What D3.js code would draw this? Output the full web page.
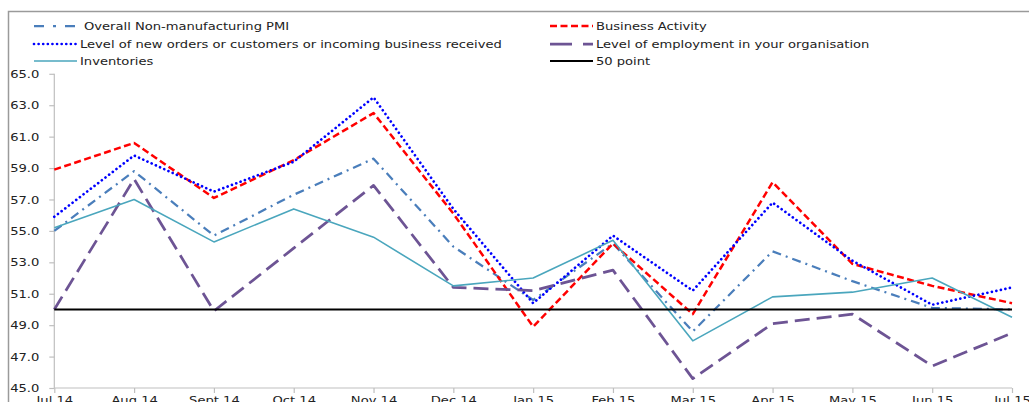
<!DOCTYPE html>
<html>
<head>
<meta charset="utf-8">
<script src="https://cdn.jsdelivr.net/npm/d3@7"></script>
<style>
html,body{margin:0;padding:0;background:#fff;}
svg{display:block;}
text{font-family:"DejaVu Sans",Verdana,sans-serif;font-size:10px;fill:#222;}
</style>
</head>
<body>
<svg id="chart" width="1029" height="402"></svg>
<script>
const months = ["Jul 14","Aug 14","Sept 14","Oct 14","Nov 14","Dec 14","Jan 15","Feb 15","Mar 15","Apr 15","May 15","Jun 15","Jul 15"];
const pmi = [55.0, 58.8, 54.7, 57.3, 59.6, 54.0, 50.6, 54.2, 48.6, 53.7, 51.8, 50.1, 50.0];
const business = [58.9, 60.6, 57.1, 59.5, 62.5, 56.1, 48.9, 54.2, 49.7, 58.1, 52.9, 51.5, 50.4];
const newOrders = [55.9, 59.8, 57.5, 59.4, 63.5, 56.4, 50.4, 54.7, 51.2, 56.8, 53.1, 50.3, 51.4];
const employment = [50.0, 58.3, 49.9, 53.9, 57.9, 51.4, 51.2, 52.5, 45.6, 49.1, 49.7, 46.4, 48.5];
const inventories = [55.2, 57.0, 54.3, 56.4, 54.6, 51.5, 52.0, 54.4, 48.0, 50.8, 51.1, 52.0, 49.5];
const fiftyPoint = [50, 50, 50, 50, 50, 50, 50, 50, 50, 50, 50, 50, 50];
const yTicks = [45, 47, 49, 51, 53, 55, 57, 59, 61, 63, 65];
const seriesNames = ["Overall Non-manufacturing PMI","Business Activity","Level of new orders or customers or incoming business received","Level of employment in your organisation","Inventories","50 point"];

const styles = [
  {color:"#4a7ebb", width:2.25, dash:"9,5,2,5", cap:"butt"},
  {color:"#ff0000", width:2.5, dash:"7,3.5", cap:"butt"},
  {color:"#0000ff", width:2.7, dash:"0.01,4.6", cap:"round"},
  {color:"#6d5494", width:2.75, dash:"15,7", cap:"butt"},
  {color:"#4aa6bd", width:1.6, dash:null, cap:"butt"},
  {color:"#000000", width:2, dash:null, cap:"butt"}
];
const data = [pmi, business, newOrders, employment, inventories, fiftyPoint];

const SX = 1.31;
const svg = d3.select("#chart");

// frame
svg.append("path").attr("d","M8.5,402 L8.5,11.5 L1029,11.5")
  .attr("fill","none").attr("stroke","#9a9a9a").attr("stroke-width",1.5);

const x = d3.scalePoint().domain(months).range([54.3, 1012]);
const y = d3.scaleLinear().domain([45, 65]).range([388, 73.8]);

// y axis
const yAxis = svg.append("g").attr("transform","translate(54.3,0)")
  .call(d3.axisLeft(y).tickValues(yTicks).tickSize(5).tickFormat(d3.format(".1f")));
yAxis.select(".domain").attr("stroke","#bfbfbf").attr("stroke-width",1.2).attr("d","M0,73.8V388");
yAxis.selectAll(".tick line").attr("stroke","#bfbfbf").attr("stroke-width",1.2);
yAxis.selectAll(".tick text").each(function(){
  const t = d3.select(this);
  t.attr("x",null).attr("dy",null).attr("text-anchor","end")
   .attr("transform",`translate(-15,3.6) scale(${SX},1)`)
   .style("font-size","10px").attr("fill","#333");
});

// x axis
const xAxis = svg.append("g").attr("transform","translate(0,388)")
  .call(d3.axisBottom(x).tickSize(5));
xAxis.select(".domain").attr("stroke","#bfbfbf").attr("stroke-width",1.2).attr("d","M54.3,0H1012");
xAxis.selectAll(".tick line").attr("stroke","#bfbfbf").attr("stroke-width",1.2);
xAxis.selectAll(".tick text").each(function(){
  const t = d3.select(this);
  t.attr("y",null).attr("dy",null).attr("text-anchor","middle")
   .attr("transform",`translate(0,15.5) scale(${SX},1)`)
   .style("font-size","10px").attr("fill","#333");
});

// lines
const line = d3.line().x((d,i)=>x(months[i])).y(d=>y(d));
data.forEach((arr,k)=>{
  const s = styles[k];
  const p = svg.append("path").datum(arr).attr("d",line)
    .attr("fill","none").attr("stroke",s.color).attr("stroke-width",s.width)
    .attr("stroke-linecap",s.cap).attr("stroke-linejoin","round");
  if (s.dash) p.attr("stroke-dasharray",s.dash);
});

// legend
const legPos = [
  {x:34, y:26, tx:84}, {x:550, y:26, tx:596},
  {x:34, y:44, tx:80}, {x:550, y:44, tx:596},
  {x:34, y:61, tx:80}, {x:550, y:61, tx:596}
];
seriesNames.forEach((name,k)=>{
  const s = styles[k], p = legPos[k];
  const l = svg.append("line").attr("x1",p.x).attr("x2",p.x+43).attr("y1",p.y).attr("y2",p.y)
    .attr("stroke",s.color).attr("stroke-width",s.width).attr("stroke-linecap",s.cap);
  if (k===0) l.attr("stroke-dasharray","10,9,3,9");
  else if (k===3) l.attr("stroke-dasharray","22,11");
  else if (s.dash) l.attr("stroke-dasharray",s.dash);
  svg.append("text").attr("transform",`translate(${p.tx},${p.y+3.6}) scale(${SX},1)`)
    .text(name);
});
</script>
</body>
</html>
